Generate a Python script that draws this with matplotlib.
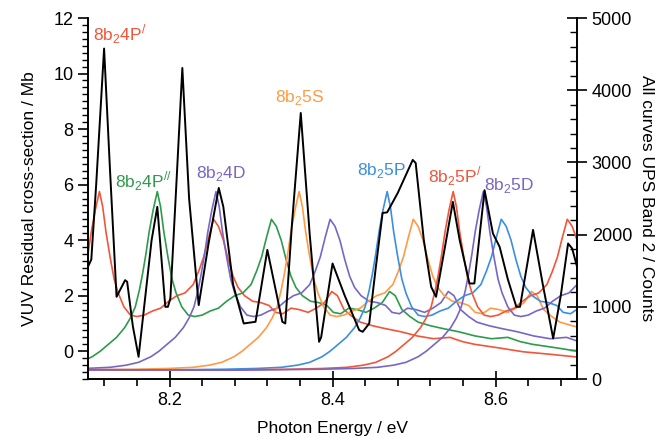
import numpy as np
import matplotlib
matplotlib.use('Agg')
import matplotlib.pyplot as plt
from matplotlib.ticker import MultipleLocator

plt.rcParams['font.family'] = ['Liberation Sans', 'DejaVu Sans']
plt.rcParams['mathtext.fontset'] = 'custom'
plt.rcParams['mathtext.rm'] = 'Liberation Sans'

# VUV residual cross-section (black, left axis, Mb)
vuv_x = [8.100, 8.104, 8.110, 8.1197, 8.127, 8.135, 8.1455, 8.148, 8.155, 8.162,
         8.170, 8.178, 8.185, 8.1948, 8.198, 8.201, 8.208, 8.2157, 8.224, 8.2358,
         8.248, 8.2604, 8.266, 8.278, 8.291, 8.3055, 8.320, 8.3384, 8.342, 8.350,
         8.361, 8.372, 8.3835, 8.386, 8.400, 8.415, 8.4327, 8.437, 8.445, 8.453,
         8.4614, 8.467, 8.480, 8.4984, 8.502, 8.512, 8.521, 8.527, 8.537, 8.5476,
         8.556, 8.568, 8.574, 8.5865, 8.5968, 8.605, 8.615, 8.6255, 8.630, 8.646,
         8.658, 8.6707, 8.680, 8.689, 8.694, 8.700]
vuv_y = [3.05, 3.3, 6.0, 10.9, 6.5, 1.96, 2.56, 2.5, 0.9, -0.2,
         1.9, 4.0, 5.2, 1.6, 1.6, 1.9, 5.8, 10.2, 5.5, 1.66,
         3.9, 5.88, 5.2, 2.4, 1.0, 1.06, 3.65, 1.06, 1.0, 4.5,
         8.58, 4.2, 0.34, 0.5, 3.16, 2.0, 0.76, 0.7, 1.0, 3.0,
         4.98, 5.0, 5.7, 6.89, 6.78, 4.0, 2.32, 1.96, 3.6, 5.38,
         4.0, 2.44, 2.44, 5.8, 4.24, 3.76, 2.6, 1.6, 1.6, 4.37,
         2.4, 0.46, 2.0, 3.88, 3.7, 3.04]

# UPS band 2 profile (counts) vs energy offset from the first vibrational peak
ups_d = [-0.60, -0.30, -0.20, -0.16, -0.13, -0.11, -0.095, -0.08, -0.07, -0.06,
         -0.05, -0.04, -0.033, -0.027, -0.022, -0.018, -0.014, -0.010, -0.005, 0.0,
         0.004, 0.008, 0.013, 0.018, 0.023, 0.030, 0.038, 0.046, 0.055, 0.065,
         0.075, 0.085, 0.095, 0.105, 0.115, 0.122, 0.128, 0.134, 0.140, 0.146,
         0.152, 0.158, 0.164, 0.170, 0.178, 0.188, 0.198, 0.208, 0.216, 0.225,
         0.235, 0.245, 0.256, 0.266, 0.276, 0.285, 0.292, 0.300, 0.310, 0.320,
         0.335, 0.350, 0.370, 0.390, 0.410, 0.430, 0.445, 0.460, 0.490, 0.520,
         0.550, 0.590, 0.620]
ups_c = [135, 123, 135, 146, 162, 192, 231, 308, 385, 481,
         577, 712, 846, 1000, 1231, 1462, 1731, 2038, 2346, 2596,
         2385, 2038, 1692, 1385, 1192, 1000, 885, 865, 885, 942,
         981, 1077, 1154, 1192, 1308, 1500, 1692, 1962, 2212, 2115,
         1923, 1654, 1423, 1269, 1154, 1077, 1058, 1019, 923, 904,
         981, 962, 923, 981, 1058, 1212, 1154, 962, 865, 788,
         738, 700, 654, 596, 558, 577, 519, 481, 431, 377,
         346, 300, 277]

# first-peak positions of each Rydberg assignment (eV)
names = [r'8b$_\mathregular{2}$4P$^\mathregular{/}$', r'8b$_\mathregular{2}$4P$^\mathregular{//}$',
         r'8b$_\mathregular{2}$4D', r'8b$_\mathregular{2}$5S', r'8b$_\mathregular{2}$5P',
         r'8b$_\mathregular{2}$5P$^\mathregular{/}$', r'8b$_\mathregular{2}$5D']
peaks = [8.114, 8.185, 8.257, 8.359, 8.467, 8.548, 8.585]
colors = ['#f2553a', '#2e9a4c', '#7866c6', '#ff9a45', '#3a8fe0', '#f2553a', '#7866c6']
lab_x = [8.106, 8.133, 8.233, 8.329, 8.430, 8.517, 8.586]
lab_y = [11.2, 5.91, 6.24, 8.97, 6.35, 6.09, 5.8]

fig = plt.figure(figsize=(6.55, 4.37), dpi=100)
ax = fig.add_axes([0.1344, 0.1327, 0.7466, 0.8261])
ax2 = ax.twinx()

for p, c in zip(peaks, colors):
    ax2.plot(np.array(ups_d) + p, ups_c, color=c, lw=1.2)
ax.plot(vuv_x, vuv_y, color='black', lw=1.4, zorder=5)
ax.set_zorder(ax2.get_zorder() + 1)
ax.patch.set_visible(False)

for t, x, y, c in zip(names, lab_x, lab_y, colors):
    ax.text(x, y, t, color=c, fontsize=12.5, ha='left', va='baseline')

ax.set_xlim(8.10, 8.70)
ax.set_ylim(-1, 12)
ax2.set_ylim(0, 5000)
ax.xaxis.set_major_locator(MultipleLocator(0.2))
ax.xaxis.set_minor_locator(MultipleLocator(0.04))
ax.yaxis.set_major_locator(MultipleLocator(2))
ax.yaxis.set_minor_locator(MultipleLocator(0.25))
ax2.yaxis.set_major_locator(MultipleLocator(1000))
ax2.yaxis.set_minor_locator(MultipleLocator(200))

for a in (ax, ax2):
    a.spines['top'].set_visible(False)
    for s in a.spines.values():
        s.set_linewidth(1.2)
ax.tick_params(axis='x', which='major', direction='inout', length=12, width=1.2, labelsize=13, pad=3)
ax.tick_params(axis='x', which='minor', direction='out', length=5, width=1.2)
ax.tick_params(axis='y', which='major', direction='out', length=7, width=1.2, labelsize=13)
ax.tick_params(axis='y', which='minor', direction='out', length=4, width=1.0)
ax2.tick_params(axis='y', which='major', direction='inout', length=14, width=1.2, labelsize=13)
ax2.tick_params(axis='y', which='minor', direction='in', length=5, width=1.0)

ax.set_xlabel('Photon Energy / eV', fontsize=12.5, labelpad=9)
ax.set_ylabel('VUV Residual cross-section / Mb', fontsize=12.5, labelpad=12)
ax2.set_ylabel('All curves UPS Band 2 / Counts', fontsize=12.5, rotation=270, labelpad=16)

fig.savefig('out.png', dpi=100)
